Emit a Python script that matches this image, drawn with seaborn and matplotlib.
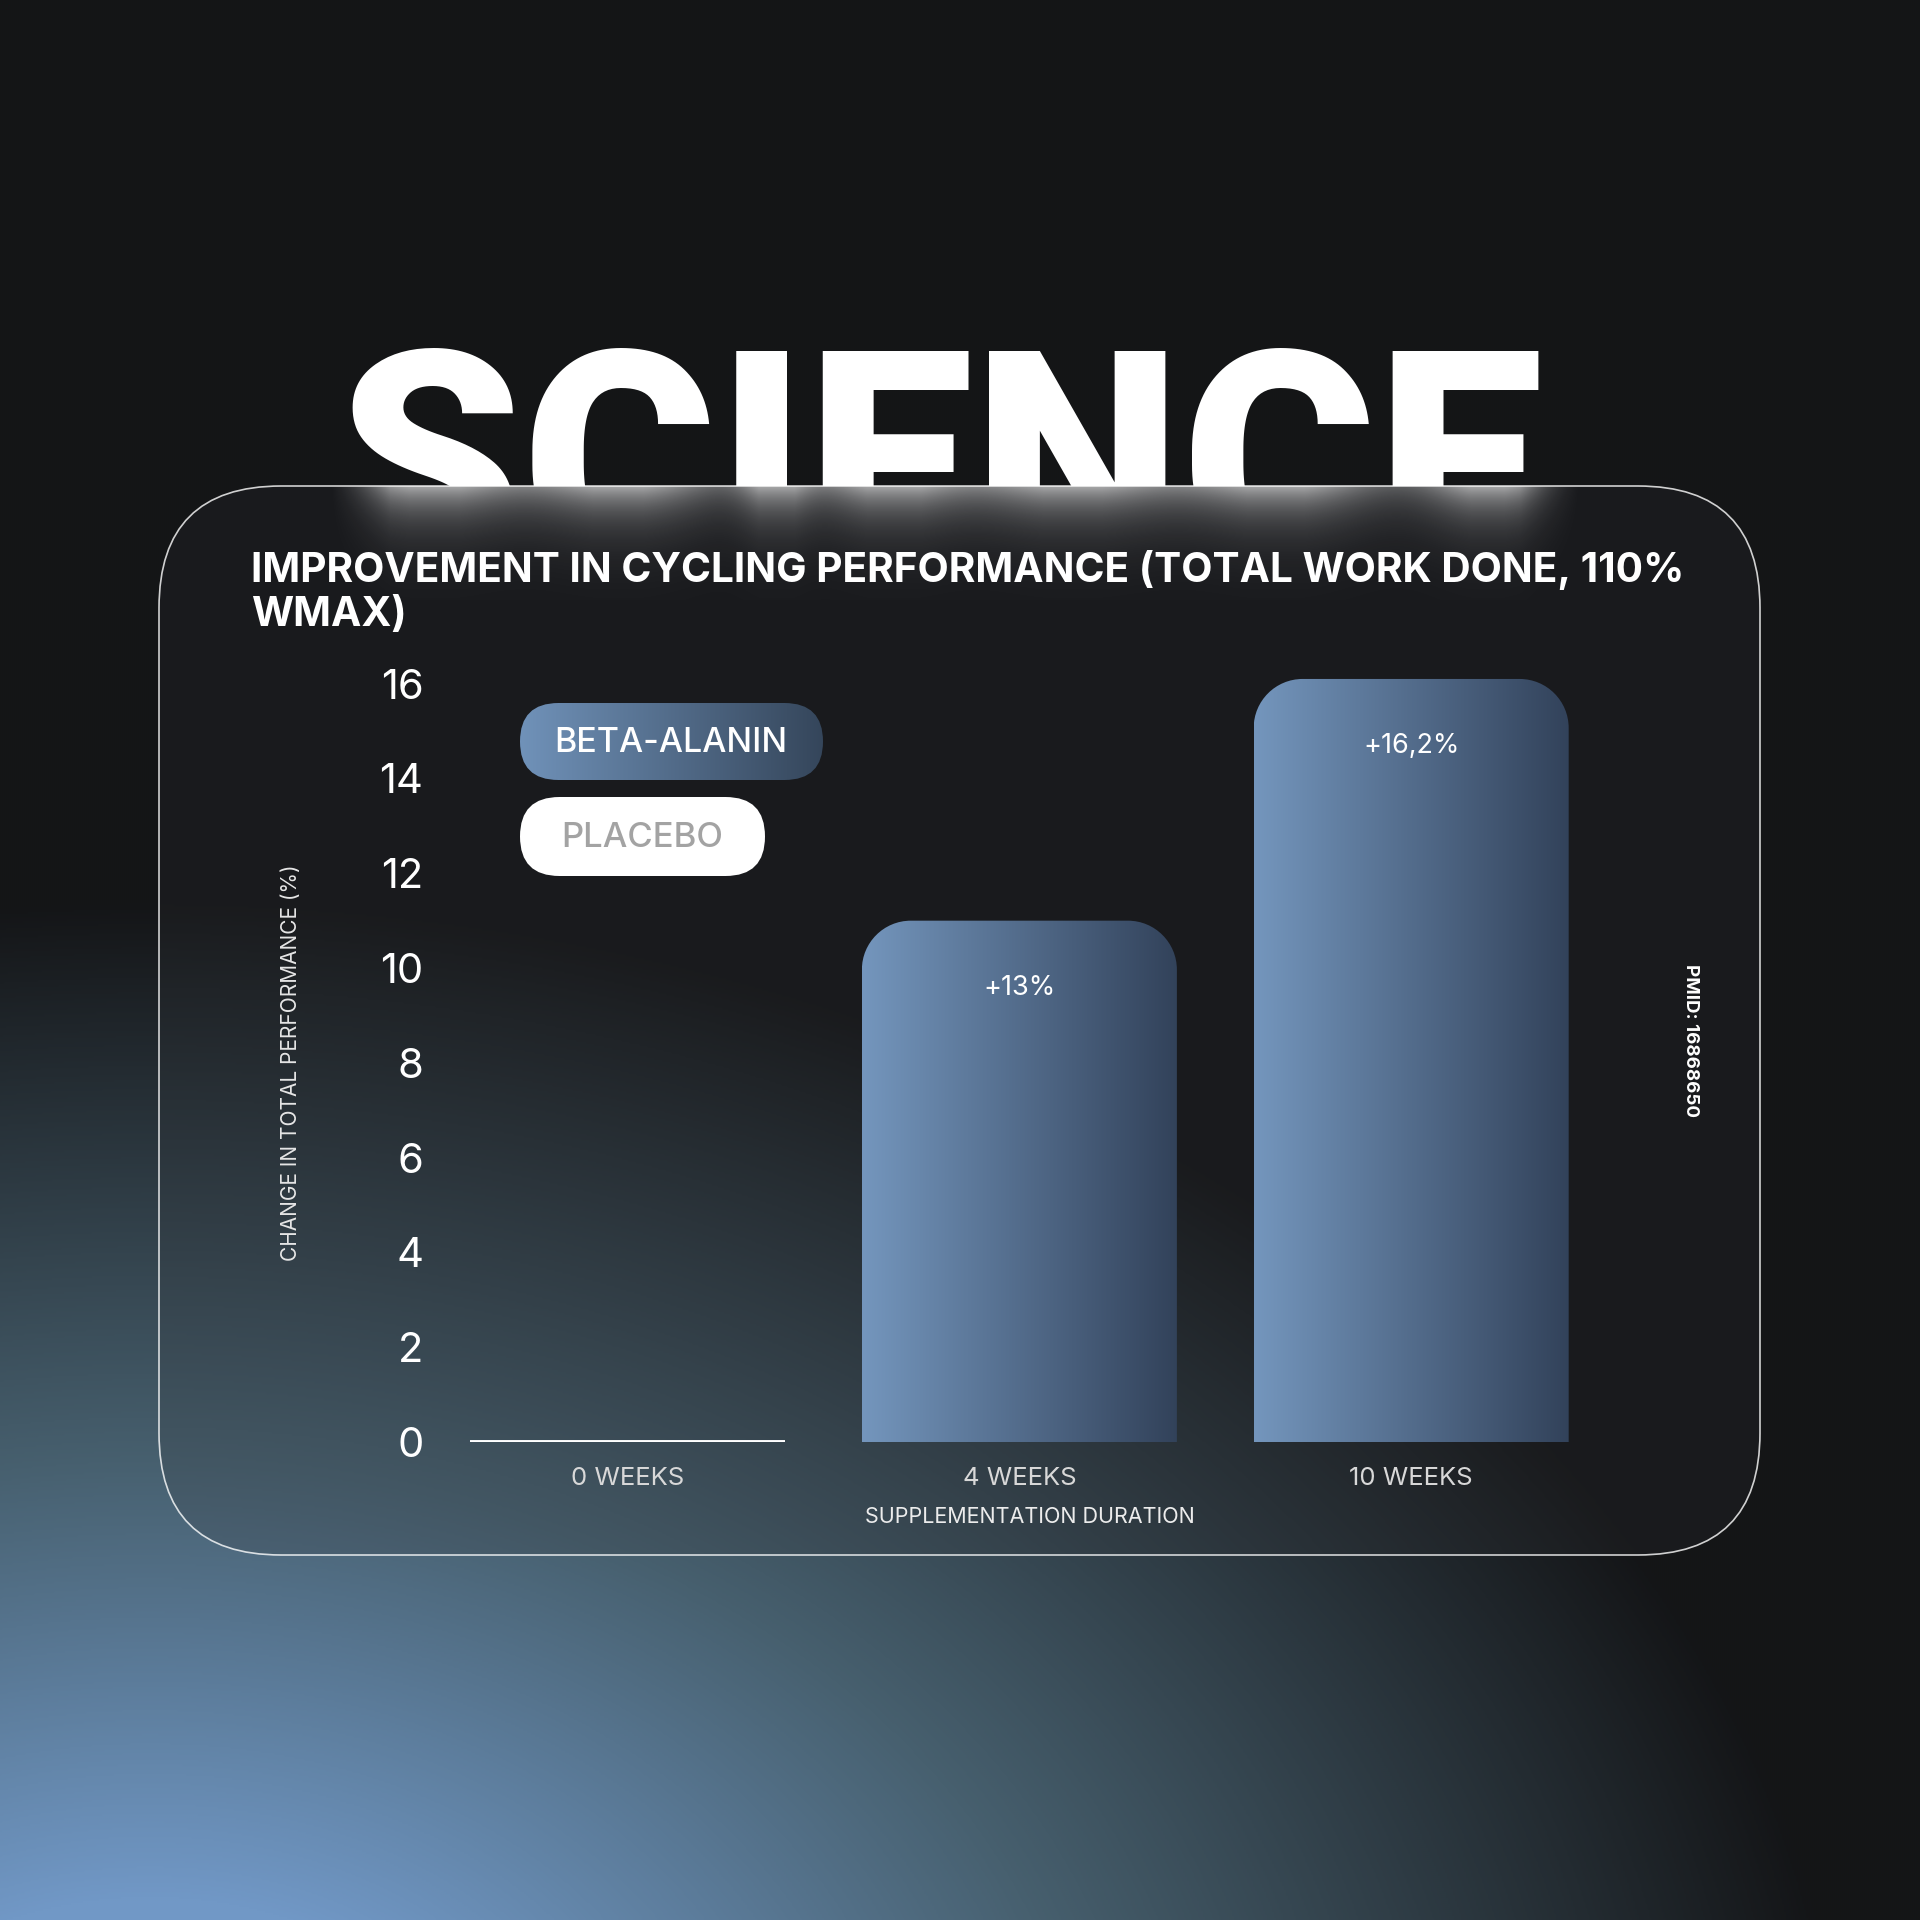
import numpy as np
import pandas as pd
import matplotlib
matplotlib.use("Agg")
import matplotlib.pyplot as plt
import seaborn as sns
from matplotlib.path import Path
from matplotlib.patches import PathPatch, FancyBboxPatch
from matplotlib.colors import LinearSegmentedColormap

sns.set_theme(style="white")
plt.rcParams['font.family'] = ['Inter', 'DejaVu Sans']

# ---- data ----
durations = ["0 WEEKS", "4 WEEKS", "10 WEEKS"]
improvement = [0.0, 11.0, 16.1]
bar_labels = ["", "+13%", "+16,2%"]
y_ticks = [0, 2, 4, 6, 8, 10, 12, 14, 16]
legend_items = ["BETA-ALANIN", "PLACEBO"]
title = "IMPROVEMENT IN CYCLING PERFORMANCE (TOTAL WORK DONE, 110%\nWMAX)"
headline = "SCIENCE"
source = "PMID: 16868650"

W = H = 1920
fig = plt.figure(figsize=(19.2, 19.2), dpi=100)

# full-figure axes in pixel coordinates for the decoration
bg = fig.add_axes([0, 0, 1, 1])
bg.set_xlim(0, W)
bg.set_ylim(H, 0)
bg.axis('off')

# background gradient: dark top, steel blue glow bottom-left
yy, xx = np.mgrid[0:H:2, 0:W:2] + 1.0
d = np.sqrt(((xx - 150) / 1700) ** 2 + ((yy - 2150) / 1250) ** 2)
w = np.clip(1 - d, 0, 1)
bg_cmap = LinearSegmentedColormap.from_list(
    'bg', [(0, '#141517'), (0.45, '#47606f'), (0.8, '#7198c6'), (1, '#7a9fcc')])
bg_img = bg_cmap(w)[..., :3]
bg.imshow(bg_img, extent=(0, W, H, 0), zorder=0, interpolation='bilinear')

# big headline, partly hidden behind the card
sci = bg.text(940, 339, headline, fontsize=216, fontweight='black',
              family=['Roboto', 'DejaVu Sans'], color='white',
              ha='center', va='top', zorder=1)
fig.canvas.draw()
sci.set_fontsize(216 * 1206 / sci.get_window_extent().width)

# card
cx0, cy0, cx1, cy1 = 159, 486, 1760, 1555
card_clip = FancyBboxPatch((cx0, cy0), cx1 - cx0, cy1 - cy0,
                           boxstyle="round,pad=0,rounding_size=122",
                           transform=bg.transData, facecolor='none', edgecolor='none')
bg.add_patch(card_clip)
card_img = bg_img * 0.8 + 0.2 * np.array([0.19, 0.196, 0.21])
im = bg.imshow(card_img, extent=(0, W, H, 0), zorder=2, interpolation='bilinear')
im.set_clip_path(card_clip)

# soft glow of the letters on the card top edge
gx = np.arange(290, 1630)
gy = np.arange(486, 600)
glow_x = np.full(gx.shape, 0.2)
for c, s in zip([431, 620, 775, 888, 1071, 1280, 1488], [60, 65, 25, 50, 75, 65, 45]):
    glow_x += 0.85 * np.exp(-0.5 * ((gx - c) / s) ** 2)
glow_x = np.clip(glow_x, 0, 1)
win = np.clip((gx - 330) / 60, 0, 1) * np.clip((1580 - gx) / 60, 0, 1)
glow_x *= win
glow_y = np.exp(-(gy - 486) / 28.0)
glow = np.ones((len(gy), len(gx), 4))
glow[..., 3] = 0.62 * glow_y[:, None] * glow_x[None, :]
gim = bg.imshow(glow, extent=(290, 1630, 600, 486), zorder=3, interpolation='bilinear')
gim.set_clip_path(card_clip)

card_edge = FancyBboxPatch((cx0, cy0), cx1 - cx0, cy1 - cy0,
                           boxstyle="round,pad=0,rounding_size=122",
                           facecolor='none', edgecolor=(1, 1, 1, 0.8), linewidth=1.2, zorder=5)
bg.add_patch(card_edge)

# title
ttl = bg.text(251, 550, title, fontsize=27, fontweight='bold', color='white',
              ha='left', va='top', zorder=6)
fig.canvas.draw()
ttl.set_fontsize(27 * 1436 / ttl.get_window_extent().width)

# legend pills
pill_cmap = LinearSegmentedColormap.from_list('pill', ['#7092b9', '#35465b'])
p1 = FancyBboxPatch((520, 703), 303, 77, boxstyle="round,pad=0,rounding_size=38.5",
                    facecolor='none', edgecolor='none', transform=bg.transData)
bg.add_patch(p1)
pim = bg.imshow(np.linspace(0, 1, 256)[None, :], extent=(520, 823, 780, 703),
                cmap=pill_cmap, zorder=6, interpolation='bicubic', aspect='auto')
pim.set_clip_path(p1)
bg.text(671, 743, legend_items[0], fontsize=24.5, fontweight='medium', color='white',
        ha='center', va='center', zorder=7)
bg.add_patch(FancyBboxPatch((520, 797), 245, 79, boxstyle="round,pad=0,rounding_size=39.5",
                            facecolor='white', edgecolor='none', zorder=6))
bg.text(642, 838, legend_items[1], fontsize=25, fontweight='medium', color='#a3a3a3',
        ha='center', va='center', zorder=7)

# source note
bg.text(1690, 1041, source, rotation=270, fontsize=13.5, fontweight='bold',
        color='white', ha='center', va='center', zorder=6)
bg.set_xlim(0, W)
bg.set_ylim(H, 0)

# ---- chart axes ----
XLIM = (-0.4788, 2.533)
YLIM = (0, 16.5)
ax = fig.add_axes([440 / W, 1 - 1442 / H, 1180 / W, (1442 - 660) / H])
ax.patch.set_alpha(0)
df = pd.DataFrame({'duration': durations, 'improvement': improvement})
sns.barplot(data=df, x='duration', y='improvement', ax=ax, color='#5a7396',
            width=0.804, saturation=1, errorbar=None)
ax.set_xlim(*XLIM)
ax.set_ylim(*YLIM)
ax.set_yticks(y_ticks)
ax.set_yticklabels([str(t) for t in y_ticks])
ax.tick_params(axis='y', length=0, pad=12, labelsize=30, labelcolor='white')
ax.tick_params(axis='x', length=0, pad=18, labelsize=18.5, labelcolor='#d8d8d8')
sns.despine(ax=ax, left=True, bottom=True)
ax.grid(False)

ax.set_xlabel("SUPPLEMENTATION DURATION", fontsize=15.5, color='#ececec')
ax.xaxis.set_label_coords(0.5, -(1507 - 1442) / 782)
ax.set_ylabel("CHANGE IN TOTAL PERFORMANCE (%)", fontsize=15, color='#e6e6e6')
ax.yaxis.set_label_coords((301 - 440) / 1180, (1442 - 1063) / 782)

# px per data unit, for rounded corners
o = ax.transData.transform((0, 0))
sx = ax.transData.transform((1, 0))[0] - o[0]
sy = ax.transData.transform((0, 1))[1] - o[1]
rx, ry = 49 / sx, 49 / sy
k = 0.5523

bar_cmap = LinearSegmentedColormap.from_list('bar', ['#7496bd', '#32425a'])
grad = np.linspace(0, 1, 256)[None, :]
for patch, val, lab in zip(ax.patches, improvement, bar_labels):
    x0 = patch.get_x()
    x1 = x0 + patch.get_width()
    h = patch.get_height()
    if h <= 0:
        patch.set_facecolor('none')
        patch.set_edgecolor('white')
        patch.set_linewidth(2.8)
        continue
    patch.set_facecolor('none')
    patch.set_edgecolor('none')
    verts = [(x0, 0), (x0, h - ry),
             (x0, h - ry + k * ry), (x0 + rx - k * rx, h), (x0 + rx, h),
             (x1 - rx, h),
             (x1 - rx + k * rx, h), (x1, h - ry + k * ry), (x1, h - ry),
             (x1, 0), (x0, 0)]
    codes = [Path.MOVETO, Path.LINETO,
             Path.CURVE4, Path.CURVE4, Path.CURVE4,
             Path.LINETO,
             Path.CURVE4, Path.CURVE4, Path.CURVE4,
             Path.LINETO, Path.CLOSEPOLY]
    clip = PathPatch(Path(verts, codes), transform=ax.transData, facecolor='none', edgecolor='none')
    ax.add_patch(clip)
    bim = ax.imshow(grad, extent=(x0, x1, 0, h), aspect='auto', cmap=bar_cmap,
                    zorder=3, interpolation='bicubic')
    bim.set_clip_path(clip)
    ax.text((x0 + x1) / 2, val - 1.42, lab, ha='center', va='center',
            fontsize=19.5, color='white', zorder=4)

ax.set_xlim(*XLIM)
ax.set_ylim(*YLIM)

fig.savefig("out.png", dpi=100)
